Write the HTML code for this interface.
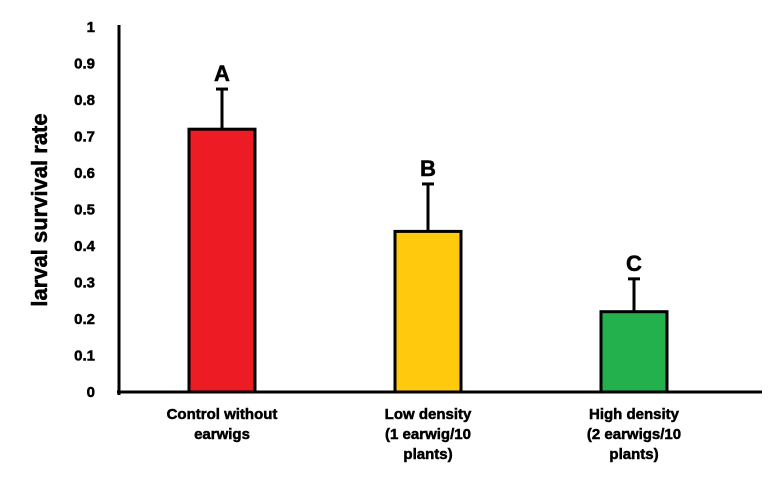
<!DOCTYPE html>
<html><head><meta charset="utf-8"><style>
body{margin:0;background:#fff;}
svg{display:block;font-family:"Liberation Sans",Arial,sans-serif;font-weight:bold;}
svg text{stroke:#000;stroke-width:0.5px;}
</style></head><body>
<svg id="chart" width="779" height="500"></svg>
<script>
const categories=[["Control without","earwigs"],["Low density","(1 earwig/10","plants)"],["High density","(2 earwigs/10","plants)"]];
const values=[0.72,0.44,0.22];
const errors=[0.11,0.13,0.09];
const letters=["A","B","C"];
const colors=["#ed1c24","#ffc90e","#22b14c"];
const ticks=[0,0.1,0.2,0.3,0.4,0.5,0.6,0.7,0.8,0.9,1];
const tickLabels=["0","0.1","0.2","0.3","0.4","0.5","0.6","0.7","0.8","0.9","1"];
const NS="http://www.w3.org/2000/svg";
const svg=document.getElementById('chart');
const y0=392,y1=27,xL=119,xR=762;
const y=v=>y0-(y0-y1)*v;
const x=i=>222+i*206;
const bw=66;
function mk(t,a,p){const e=document.createElementNS(NS,t);for(const k in a)e.setAttribute(k,a[k]);(p||svg).appendChild(e);return e;}
ticks.forEach((t,i)=>{
const e=mk('text',{x:95,y:y(t)+5,'text-anchor':'end','font-size':15});
e.textContent=tickLabels[i];


});
values.forEach((v,i)=>{
const cx=x(i);
const ey=y(v+errors[i]);
const l=mk('line',{x1:cx,x2:cx,y1:y(v),y2:ey,stroke:'#000','stroke-width':3});


const c=mk('line',{x1:cx-6,x2:cx+6,y1:ey,y2:ey,stroke:'#000','stroke-width':3});


const r=mk('rect',{x:cx-bw/2,y:y(v),width:bw,height:y0-y(v),fill:colors[i],stroke:'#000','stroke-width':3});


const t=mk('text',{x:cx,y:ey-8,'text-anchor':'middle','font-size':22});
t.textContent=letters[i];


categories[i].forEach((s,j)=>{
const tl=mk('text',{x:cx,y:419+j*20,'text-anchor':'middle','font-size':15});
tl.textContent=s;


});
});
const ya=mk('line',{x1:xL,x2:xL,y1:25,y2:y0+3,stroke:'#000','stroke-width':3});


const xa=mk('line',{x1:xL-2,x2:xR,y1:y0,y2:y0,stroke:'#000','stroke-width':3});


const yt=mk('text',{x:0,y:0,'text-anchor':'middle','font-size':22,transform:'translate(47,210) rotate(-90)'});
yt.textContent='larval survival rate';


</script>
</body></html>
